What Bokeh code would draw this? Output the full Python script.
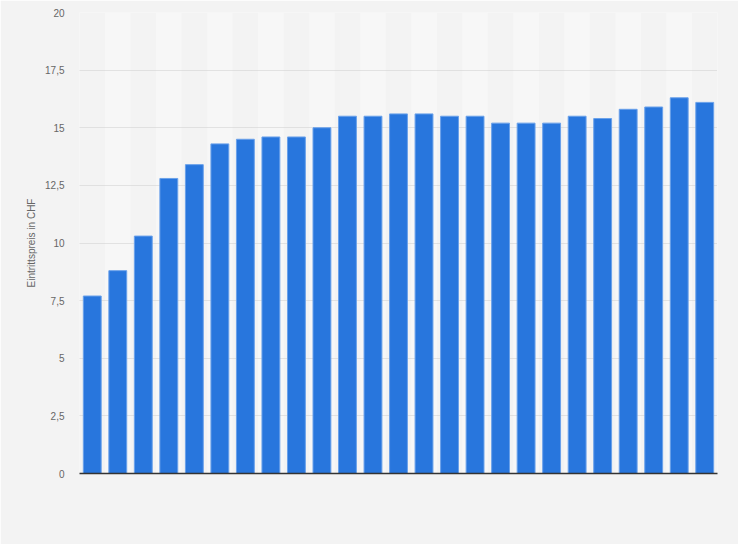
from bokeh.plotting import figure
from bokeh.models import Range1d, FixedTicker, CustomJSTickFormatter
from bokeh.embed import file_html
from bokeh.resources import INLINE

# data
positions = list(range(1, 26))
prices = [7.7, 8.8, 10.3, 12.8, 13.4, 14.3, 14.5, 14.6, 14.6, 15.0,
          15.5, 15.5, 15.6, 15.6, 15.5, 15.5, 15.2, 15.2, 15.2, 15.5,
          15.4, 15.8, 15.9, 16.3, 16.1]
y_ticks = [0, 2.5, 5, 7.5, 10, 12.5, 15, 17.5, 20]
y_label = "Eintrittspreis in CHF"

BG = "#f3f3f3"

p = figure(width=738, height=544, output_backend="svg", toolbar_location=None,
           x_range=Range1d(0.5, 25.5), y_range=Range1d(0, 20),
           min_border_left=79, min_border_right=21, min_border_top=12,
           min_border_bottom=71)
p.background_fill_color = BG
p.border_fill_color = BG
p.outline_line_color = None

# alternating column stripes
stripe_x = [x for x in positions if x % 2 == 0]
p.vbar(x=stripe_x, top=20, bottom=0, width=1.0, fill_color="#f7f7f7",
       line_color=None, level="image")

p.vbar(x=positions, top=prices, width=0.7, fill_color="#2876dd",
       line_color="#6aa1ea", line_width=1)

# y axis
p.yaxis.ticker = FixedTicker(ticks=y_ticks)
p.yaxis.formatter = CustomJSTickFormatter(code="return tick.toString().replace('.', ',');")
p.yaxis.axis_line_color = None
p.yaxis.major_tick_line_color = None
p.yaxis.minor_tick_line_color = None
p.yaxis.major_tick_out = 0
p.yaxis.major_label_standoff = 15
p.yaxis.major_label_text_font = "Liberation Sans"
p.yaxis.major_label_text_font_size = "10px"
p.yaxis.major_label_text_color = "#666666"
p.yaxis.axis_label = y_label
p.yaxis.axis_label_text_font = "Liberation Sans"
p.yaxis.axis_label_text_font_size = "10px"
p.yaxis.axis_label_text_font_style = "normal"
p.yaxis.axis_label_text_color = "#666666"
p.yaxis.axis_label_standoff = 5

# x axis
p.xaxis.ticker = FixedTicker(ticks=[])
p.xaxis.major_tick_line_color = None
p.xaxis.minor_tick_line_color = None
p.xaxis.axis_line_color = "#333333"
p.xaxis.axis_line_width = 1.5
p.xaxis.major_label_text_font_size = "0px"

p.xgrid.grid_line_color = None
p.ygrid.grid_line_color = "#cccccc"
p.ygrid.grid_line_dash = "1 1"
p.ygrid.grid_line_width = 1

html = file_html(p, INLINE)
html = html.replace("<body>", '<body style="background:%s">' % BG, 1)
open("out.html", "w").write(html)
